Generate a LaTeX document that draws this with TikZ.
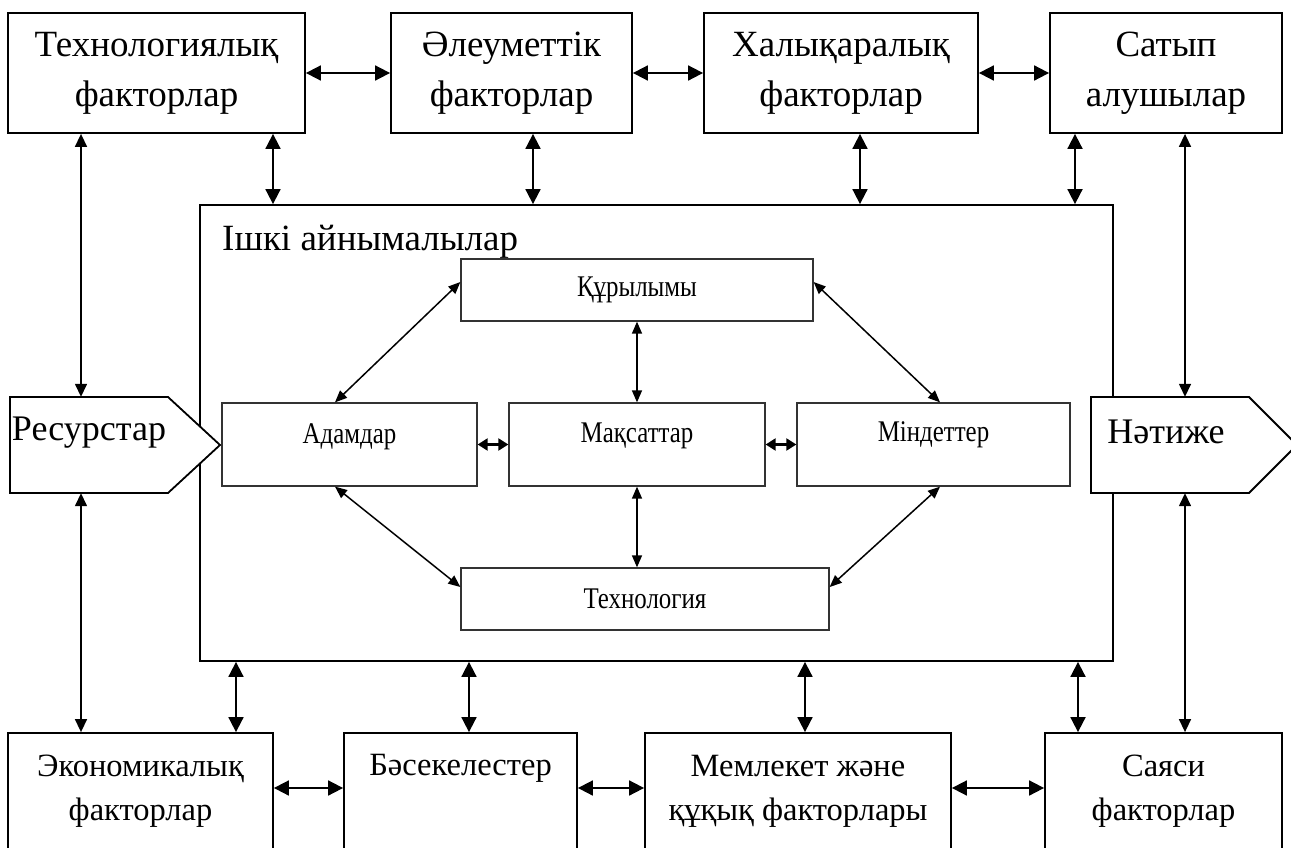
\documentclass[tikz,border=0pt]{standalone}
\usepackage{fontspec}
\setmainfont{Liberation Serif}
\newfontfamily\condfont[FakeStretch=0.83]{Liberation Serif}
\usetikzlibrary{arrows.meta}
\begin{document}
\begin{tikzpicture}[x=1bp,y=-1bp,
  bigbox/.style={draw, line width=1.8bp, inner sep=0pt, align=center,
    font=\fontsize{37bp}{50bp}\selectfont},
  lowbox/.style={draw, line width=1.8bp, inner sep=0pt, align=center,
    font=\fontsize{32.5bp}{44bp}\selectfont},
  smallbox/.style={draw=black!80, line width=1.3bp, inner sep=0pt,
    font=\fontsize{30bp}{36bp}\condfont},
  sigtext/.style={inner sep=0pt, font=\fontsize{36bp}{44bp}\selectfont},
  sigshape/.style={draw, fill=white, line width=1.8bp, line join=miter},
  bigarr/.style={line width=1.8bp, >={Triangle[length=15bp,width=15bp]}, <->},
  longarr/.style={line width=1.5bp, >={Triangle[length=13bp,width=12bp]}, <->},
  smallarr/.style={line width=1.5bp, >={Triangle[length=12bp,width=10bp]}, <->},
  shortarr/.style={line width=2.2bp, >={Triangle[length=10bp,width=12bp]}, <->}
]
\useasboundingbox (0,0) rectangle (1291,848);
\clip (0,0) rectangle (1291,848);
\fill[white] (0,0) rectangle (1291,848);

% top factor boxes
\node[bigbox, minimum width=297bp, minimum height=120bp] (T1) at (156.5,73) {Технологиялық\\факторлар};
\node[bigbox, minimum width=241bp, minimum height=120bp] (T2) at (511.5,73) {Әлеуметтік\\факторлар};
\node[bigbox, minimum width=274bp, minimum height=120bp] (T3) at (841,73) {Халықаралық\\факторлар};
\node[bigbox, minimum width=232bp, minimum height=120bp] (T4) at (1166,73) {Сатып\\алушылар};

% inner variables frame
\node[draw, line width=1.8bp, minimum width=913bp, minimum height=456bp, inner sep=0pt] (inner) at (656.5,433) {};
\node[anchor=base west, inner sep=0pt, font=\fontsize{37bp}{44bp}\selectfont] (lbl) at (222,250) {Ішкі айнымалылар};

% input / output pentagons
\draw[sigshape] (10,397) -- (168,397) -- (220,445) -- (168,493) -- (10,493) -- cycle;
\node[sigtext, minimum width=158bp, minimum height=96bp, text height=24bp, text depth=34bp] (res) at (89,445) {Ресурстар};
\draw[sigshape] (1091,397) -- (1249,397) -- (1297,445) -- (1249,493) -- (1091,493) -- cycle;
\node[sigtext, minimum width=158bp, minimum height=96bp, text height=24bp, text depth=28bp] (net) at (1166,445) {Нәтиже};

% inner boxes
\node[smallbox, minimum width=352bp, minimum height=62bp] (kur) at (637,290) {Құрылымы};
\node[smallbox, minimum width=255bp, minimum height=83bp, text height=20bp, text depth=22bp] (ad) at (349.5,444.5) {Адамдар};
\node[smallbox, minimum width=256bp, minimum height=83bp, text height=20bp, text depth=24bp] (mak) at (637,444.5) {Мақсаттар};
\node[smallbox, minimum width=273bp, minimum height=83bp, text height=20bp, text depth=26bp] (min) at (933.5,444.5) {Міндеттер};
\node[smallbox, minimum width=368bp, minimum height=62bp] (tech) at (645,599) {Технология};

% bottom factor boxes (run past the lower edge)
\node[lowbox, minimum width=265bp, minimum height=117bp] (B1) at (140.5,791.5) {Экономикалық\\факторлар};
\node[lowbox, minimum width=233bp, minimum height=117bp, text height=21.5bp, text depth=54.5bp] (B2) at (460.5,791.5) {Бәсекелестер};
\node[lowbox, minimum width=306bp, minimum height=117bp] (B3) at (798,791.5) {Мемлекет және\\құқық факторлары};
\node[lowbox, minimum width=237bp, minimum height=117bp] (B4) at (1163.5,791.5) {Саяси\\факторлар};

% helper coordinates for connector positions
\coordinate (xa) at (273,0);
\coordinate (xb) at (533,0);
\coordinate (xc) at (860,0);
\coordinate (xd) at (1075,0);
\coordinate (xr) at (81,0);
\coordinate (xn) at (1185,0);
\coordinate (xe) at (236,0);
\coordinate (xf) at (469,0);
\coordinate (xg) at (805,0);
\coordinate (xh) at (1078,0);
\coordinate (yb) at (0,788);
\coordinate (ka) at (335,282);
\coordinate (kb) at (940,0);
\coordinate (kc) at (0,587);

% top connectors
\draw[bigarr] (T1.east) -- (T2.west);
\draw[bigarr] (T2.east) -- (T3.west);
\draw[bigarr] (T3.east) -- (T4.west);
\draw[bigarr] (T1.south -| xa) -- (inner.north -| xa);
\draw[bigarr] (T2.south -| xb) -- (inner.north -| xb);
\draw[bigarr] (T3.south -| xc) -- (inner.north -| xc);
\draw[bigarr] (T4.south -| xd) -- (inner.north -| xd);
\draw[longarr] (T1.south -| xr) -- (res.north -| xr);
\draw[longarr] (T4.south -| xn) -- (net.north -| xn);

% bottom connectors
\draw[longarr] (res.south -| xr) -- (B1.north -| xr);
\draw[longarr] (net.south -| xn) -- (B4.north -| xn);
\draw[bigarr] (inner.south -| xe) -- (B1.north -| xe);
\draw[bigarr] (inner.south -| xf) -- (B2.north -| xf);
\draw[bigarr] (inner.south -| xg) -- (B3.north -| xg);
\draw[bigarr] (inner.south -| xh) -- (B4.north -| xh);
\draw[bigarr] (B1.east |- yb) -- (B2.west |- yb);
\draw[bigarr] (B2.east |- yb) -- (B3.west |- yb);
\draw[bigarr] (B3.east |- yb) -- (B4.west |- yb);

% inner connectors
\draw[smallarr] (ad.north -| ka) -- (kur.west |- ka);
\draw[smallarr] (kur.east |- ka) -- (min.north -| kb);
\draw[smallarr] (ad.south -| ka) -- (tech.west |- kc);
\draw[smallarr] (min.south -| kb) -- (tech.east |- kc);
\draw[smallarr] (kur.south) -- (mak.north);
\draw[smallarr] (mak.south) -- (tech.north -| mak.south);
\draw[shortarr] (ad.east) -- (mak.west);
\draw[shortarr] (mak.east) -- (min.west);
\end{tikzpicture}
\end{document}
